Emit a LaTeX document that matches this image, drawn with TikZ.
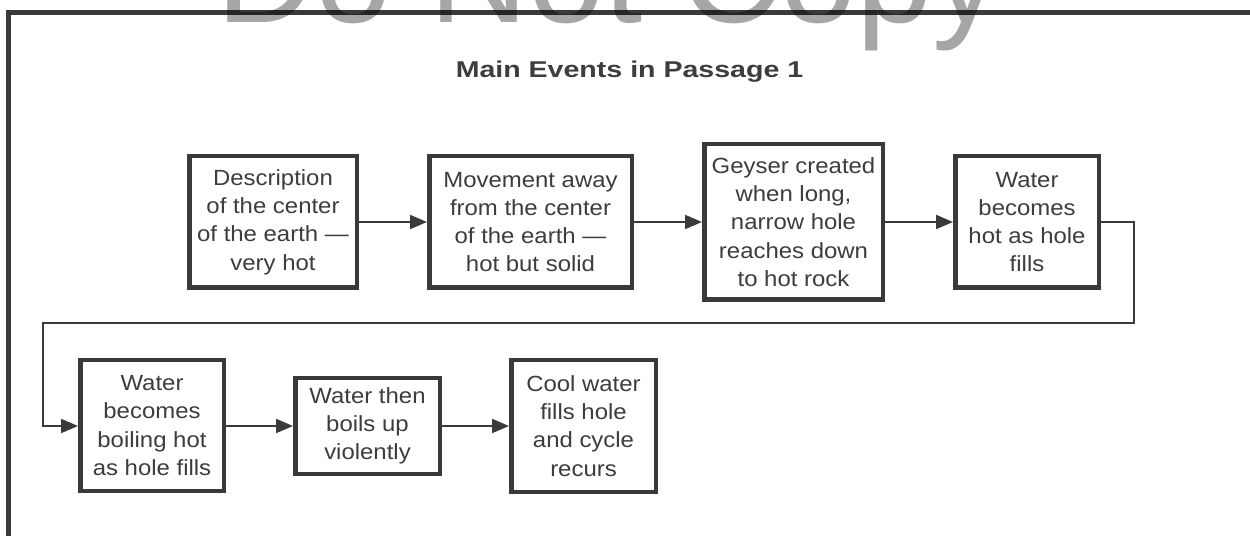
\documentclass[tikz,border=0pt]{standalone}
\usepackage{fontspec}
\setmainfont{Liberation Sans}[FakeStretch=1.09]
\newfontfamily\titlefont{Liberation Sans}[FakeStretch=1.25]
\newfontfamily\markfont{Liberation Sans}
\usetikzlibrary{arrows.meta}
\definecolor{ink}{HTML}{3A3A3A}
\definecolor{txt}{HTML}{3D3D3D}
\tikzset{
  eventbox/.style={draw=ink, line width=0.09cm, rectangle, align=center,
    inner sep=0pt, text=txt, font=\fontsize{12.5}{16.1}\selectfont},
  flow/.style={draw=ink, line width=0.04cm,
    -{Triangle[length=0.34cm,width=0.28cm]}},
}
\begin{document}
\begin{tikzpicture}[x=0.02cm, y=-0.02cm]
\useasboundingbox (0,0) rectangle (1250,536);
\fill[white] (0,0) rectangle (1250,536);

% page frame
\draw[ink, line width=0.09cm] (8.5,540) -- (8.5,12.5) -- (1260,12.5);

% watermark across the top edge
\node[anchor=base, inner sep=0pt, text=black, text opacity=0.35,
  font=\markfont\fontsize{78}{82}\selectfont] (mark) at (609,23) {Do Not Copy};

% title
\node[anchor=base, inner sep=0pt, text=txt,
  font=\titlefont\bfseries\fontsize{13}{16}\selectfont] (title) at (629.5,78) {Main Events in Passage 1};

% first row
\node[eventbox, minimum width=167.5*0.02cm, minimum height=131.5*0.02cm] (b1) at (273,222)
  {Description\\of the center\\of the earth ---\\very hot};
\node[eventbox, minimum width=202.5*0.02cm, minimum height=131.5*0.02cm] (b2) at (530.5,222)
  {Movement away\\from the center\\of the earth ---\\hot but solid};
\node[eventbox, minimum width=178.5*0.02cm, minimum height=155.5*0.02cm] (b3) at (793.5,222)
  {Geyser created\\when long,\\narrow hole\\reaches down\\to hot rock};
\node[eventbox, minimum width=143.5*0.02cm, minimum height=131.5*0.02cm] (b4) at (1027,222)
  {Water\\becomes\\hot as hole\\fills};

% second row
\node[eventbox, minimum width=143.5*0.02cm, minimum height=130.5*0.02cm] (b5) at (152,425.5)
  {Water\\becomes\\boiling hot\\as hole fills};
\node[eventbox, minimum width=144.5*0.02cm, minimum height=95.5*0.02cm] (b6) at (367.5,426)
  {Water then\\boils up\\violently};
\node[eventbox, minimum width=144.5*0.02cm, minimum height=131.5*0.02cm] (b7) at (583.5,426)
  {Cool water\\fills hole\\and cycle\\recurs};

% connectors
\draw[flow] (b1) -- (b2);
\draw[flow] (b2) -- (b3);
\draw[flow] (b3) -- (b4);
\coordinate (r1) at (1134,222);
\coordinate (r2) at (1134,323.5);
\coordinate (l1) at (43,323.5);
\coordinate (l2) at (43,426);
\draw[flow] (b4.east) -- (r1) -- (r2) -- (l1) -- (l2) -- (b5.west |- l2);
\draw[flow] (b5.east |- b6.west) -- (b6.west);
\draw[flow] (b6) -- (b7);
\end{tikzpicture}
\end{document}
